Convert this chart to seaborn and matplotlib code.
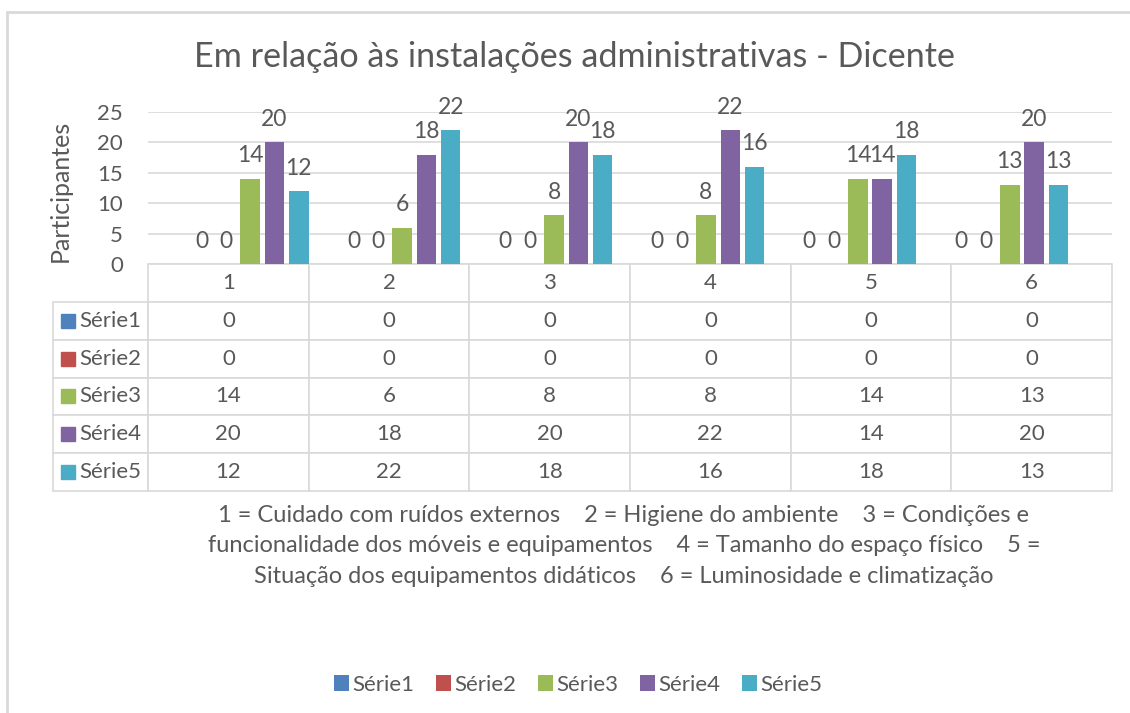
import pandas as pd
import matplotlib.pyplot as plt
import seaborn as sns
from matplotlib.patches import Patch, Rectangle
from matplotlib.table import Table

# Data
categories = ['1', '2', '3', '4', '5', '6']
series_names = ['Série1', 'Série2', 'Série3', 'Série4', 'Série5']
serie1 = [0, 0, 0, 0, 0, 0]
serie2 = [0, 0, 0, 0, 0, 0]
serie3 = [14, 6, 8, 8, 14, 13]
serie4 = [20, 18, 20, 22, 14, 20]
serie5 = [12, 22, 18, 16, 18, 13]
colors = ['#4f81bd', '#c0504d', '#9bbb59', '#8064a2', '#4bacc6']

title = 'Em relação às instalações administrativas - Dicente'
ylabel = 'Participantes'
caption = ('1 = Cuidado com ruídos externos    2 = Higiene do ambiente    3 = Condições e\n'
           'funcionalidade dos móveis e equipamentos    4 = Tamanho do espaço físico    5 =\n'
           'Situação dos equipamentos didáticos    6 = Luminosidade e climatização')

values = [serie1, serie2, serie3, serie4, serie5]
df = pd.DataFrame({
    'categoria': categories * len(series_names),
    'serie': [s for s in series_names for _ in categories],
    'valor': [v for row in values for v in row],
})

sns.set_theme(style='white')
plt.rcParams['font.family'] = ['Lato', 'DejaVu Sans']
text_color = '#595959'
grid_color = '#d9d9d9'

W, H = 1130, 713
fig = plt.figure(figsize=(W / 100, H / 100), dpi=100)
fig.patch.set_facecolor('white')

# plot area in pixels: x 148..1112, y 112 (25) .. 264 (0)
ax = fig.add_axes([148 / W, 1 - 264 / H, 964 / W, 152 / H])
sns.barplot(data=df, x='categoria', y='valor', hue='serie', palette=colors,
            width=0.8, gap=0.2, saturation=1, linewidth=0, legend=False, ax=ax)

ax.set_ylim(0, 25)
ax.set_yticks(range(0, 26, 5))
ax.yaxis.grid(True, color=grid_color, lw=1.2)
ax.set_axisbelow(True)
for sp in ax.spines.values():
    sp.set_visible(False)
ax.tick_params(axis='x', labelbottom=False, length=0)
ax.tick_params(axis='y', length=0, pad=18, labelsize=16, labelcolor=text_color)
ax.set_xlabel('')
ax.set_ylabel('')

for cont in ax.containers:
    ax.bar_label(cont, fmt='%g', padding=9, fontsize=16.5, color=text_color)

# data table under the plot
label_w = 95 / 964
tab_h = (491 - 264) / 152
n_rows = len(series_names) + 1
row_h = tab_h / n_rows
tab = Table(ax, bbox=[-label_w, -tab_h, 1 + label_w, tab_h])
for j, cat in enumerate(categories):
    tab.add_cell(0, j + 1, 1 / 6, row_h, text=cat, loc='center')
for i, (name, row) in enumerate(zip(series_names, values)):
    cell = tab.add_cell(i + 1, 0, label_w, row_h, text=name, loc='left')
    cell.PAD = 0.28
    for j, v in enumerate(row):
        tab.add_cell(i + 1, j + 1, 1 / 6, row_h, text=str(v), loc='center')
tab.auto_set_font_size(False)
tab.set_fontsize(16)
for cell in tab.get_celld().values():
    cell.set_edgecolor(grid_color)
    cell.set_linewidth(1.2)
    cell.get_text().set_color(text_color)
ax.add_table(tab)

# coloured keys in the row labels
for i, c in enumerate(colors):
    ax.plot([-label_w + 15 / 964], [-(i + 1.5) * row_h], 's', ms=10.5, color=c,
            transform=ax.transAxes, clip_on=False)

fig.text(575 / W, 1 - 57 / H, title, ha='center', va='center',
         fontsize=24.6, color=text_color)
fig.text(60 / W, 1 - 191 / H, ylabel, rotation=90, ha='center', va='center',
         fontsize=18, color=text_color)
fig.text(624 / W, 1 - 546 / H, caption, ha='center', va='center',
         fontsize=17, linespacing=1.57, color=text_color)

handles = [Patch(facecolor=c, edgecolor='none') for c in colors]
fig.legend(handles, series_names, loc='center', ncol=5,
           bbox_to_anchor=(578 / W, 1 - 685 / H), frameon=False,
           handlelength=0.7, handleheight=0.7, handletextpad=0.15,
           columnspacing=0.95, fontsize=16, labelcolor=text_color)

# outer chart frame (only top and left edges fall inside the picture)
fig.add_artist(Rectangle((7 / W, -0.1), 1.2, 1 - 12 / H + 0.1,
                         transform=fig.transFigure, fill=False,
                         edgecolor=grid_color, lw=2))

fig.savefig('out.png', dpi=100)
